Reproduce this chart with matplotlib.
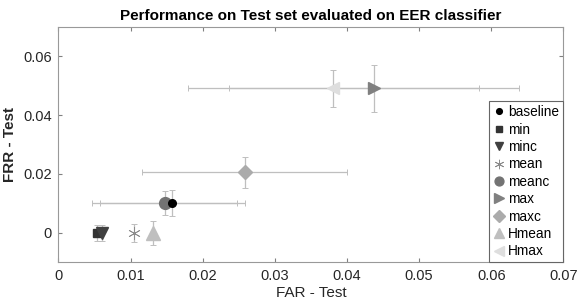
import matplotlib.pyplot as plt
import numpy as np

plt.rcParams['font.family'] = ['Liberation Sans', 'DejaVu Sans']

names = ['baseline', 'min', 'minc', 'mean', 'meanc', 'max', 'maxc', 'Hmean', 'Hmax']
far = [0.0158, 0.0053, 0.0060, 0.0105, 0.0147, 0.0437, 0.0258, 0.0131, 0.0381]
frr = [0.0101, 0.0000, 0.0000, 0.0000, 0.0101, 0.0490, 0.0206, 0.0000, 0.0490]
far_err = [0.0100, 0.0, 0.0, 0.0, 0.0100, 0.0201, 0.0142, 0.0, 0.0202]
frr_err = [0.0044, 0.0026, 0.0026, 0.0031, 0.0040, 0.0079, 0.0053, 0.0040, 0.0064]

markers = ['o', 's', 'v', '*', 'o', '>', 'D', '^', '<']
sizes = [5.5, 6, 8.5, 9, 8.5, 9, 7.5, 10, 9]
greys = ['0.0', '0.2', '0.25', '0.45', '0.45', '0.5', '0.67', '0.75', '0.87']

fig = plt.figure(figsize=(5.79, 3.02), dpi=100)
ax = fig.add_axes([0.101, 0.131, 0.872, 0.781])

# draw in reverse so baseline ends on top of meanc
for i in [8, 7, 6, 5, 4, 3, 2, 1, 0]:
    xe = far_err[i] if far_err[i] > 0 else None
    ax.errorbar(far[i], frr[i], xerr=xe, yerr=frr_err[i], fmt='none',
                ecolor='0.75', elinewidth=0.9, capsize=2, capthick=0.7, zorder=1)
handles = []
for i in range(len(names)):
    if markers[i] == '*':
        h, = ax.plot(far[i], frr[i], linestyle='none', marker=(6, 2, 0), markersize=sizes[i],
                     markeredgecolor='0.55', markeredgewidth=0.6, label=names[i], zorder=3)
    else:
        h, = ax.plot(far[i], frr[i], linestyle='none', marker=markers[i], markersize=sizes[i],
                     color=greys[i], markeredgecolor=greys[i], label=names[i],
                     zorder=3 if i != 0 else 4)
    handles.append(h)

ax.set_xlim(0, 0.07)
ax.set_ylim(-0.01, 0.07)
ax.set_xticks(np.arange(0, 0.071, 0.01))
ax.set_xticklabels(['0', '0.01', '0.02', '0.03', '0.04', '0.05', '0.06', '0.07'])
ax.set_yticks([0, 0.02, 0.04, 0.06])
ax.set_yticklabels(['0', '0.02', '0.04', '0.06'])
ax.tick_params(direction='in', length=3, labelsize=10.5, colors='0.5', labelcolor='0.15',
               top=True, right=True, pad=5)
for s in ax.spines.values():
    s.set_color('0.6')
    s.set_linewidth(0.8)

ax.set_title('Performance on Test set evaluated on EER classifier', fontsize=11,
             fontweight='bold', pad=5)
ax.set_xlabel('FAR - Test', fontsize=11, color='0.15', labelpad=2)
ax.set_ylabel('FRR - Test', fontsize=11, fontweight='bold', color='0.15', labelpad=4)

leg = ax.legend(handles=handles, loc='lower right', bbox_to_anchor=(1.0, 0.0),
                borderaxespad=0, fontsize=9.8, frameon=True, fancybox=False,
                borderpad=0.3, labelspacing=0.25, handletextpad=0.15, handlelength=1.0,
                markerscale=0.75, framealpha=1)
leg.get_frame().set_edgecolor('0.4')
leg.get_frame().set_linewidth(0.8)

fig.savefig('out.png', dpi=100)
